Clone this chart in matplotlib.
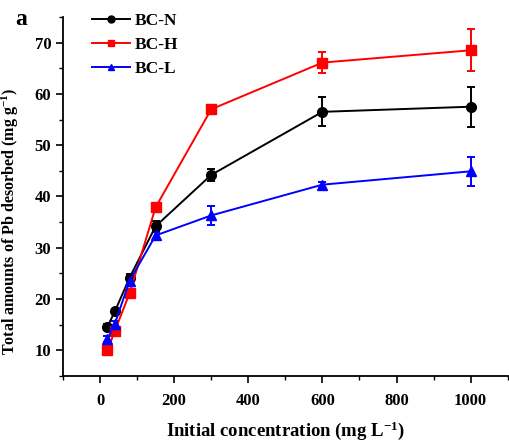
import matplotlib
matplotlib.use("Agg")
import matplotlib.pyplot as plt
from matplotlib.lines import Line2D
from matplotlib.ticker import MultipleLocator

plt.rcParams['font.family'] = ['Liberation Serif', 'DejaVu Serif']
plt.rcParams['font.weight'] = 'bold'
plt.rcParams['mathtext.fontset'] = 'custom'
plt.rcParams['mathtext.rm'] = 'Liberation Serif:bold'
plt.rcParams['mathtext.bf'] = 'Liberation Serif:bold'
plt.rcParams['mathtext.default'] = 'bf'

conc = [20, 40, 80, 150, 300, 600, 1000]

bcn = [14.6, 17.6, 24.2, 34.2, 44.2, 56.5, 57.5]
bcn_err = [0.5, 0.5, 0.6, 1.0, 1.2, 2.8, 3.9]

bch = [10.0, 13.8, 21.2, 37.9, 57.0, 66.1, 68.5]
bch_err = [0.5, 0.5, 0.8, 0.6, 0.6, 2.0, 4.1]

bcl = [12.2, 15.2, 23.6, 32.4, 36.3, 42.3, 44.9]
bcl_err = [0.6, 0.6, 0.6, 0.6, 1.8, 0.6, 2.8]

fig = plt.figure(figsize=(5.1, 4.46), dpi=100)
ax = fig.add_axes([0.1235, 0.157, 0.872, 0.805])

series = [
    ('BC-N', bcn, bcn_err, 'black', 'o'),
    ('BC-H', bch, bch_err, 'red', 's'),
    ('BC-L', bcl, bcl_err, 'blue', '^'),
]
handles = []
for name, vals, errs, col, mk in series:
    ax.errorbar(conc, vals, yerr=errs, color=col, marker=mk, markersize=7,
                linewidth=1.4, elinewidth=1.4, capsize=3, capthick=1.4)
    handles.append(Line2D([], [], color=col, marker=mk, markersize=5,
                          linewidth=1.4, label=name))

ax.set_xlim(-100, 1100)
ax.set_ylim(5, 75)
ax.xaxis.set_minor_locator(MultipleLocator(100))
ax.yaxis.set_minor_locator(MultipleLocator(5))
ax.set_xticks([0, 200, 400, 600, 800, 1000])
ax.set_yticks([10, 20, 30, 40, 50, 60, 70])

ax.spines['top'].set_visible(False)
ax.spines['right'].set_visible(False)
for s in ('left', 'bottom'):
    ax.spines[s].set_linewidth(1.3)
ax.tick_params(which='major', direction='out', length=5, width=1.2,
               labelsize=12)
ax.tick_params(axis='x', which='major', pad=7)
ax.tick_params(which='minor', direction='out', length=3, width=1.0)
for lab in ax.get_xticklabels() + ax.get_yticklabels():
    lab.set_fontweight('bold')

ax.set_xlabel('Initial concentration (mg L$^{-1}$)', fontsize=13.5,
              fontweight='bold', labelpad=8)
ax.set_ylabel('Total amounts of Pb desorbed (mg g$^{-1}$)', fontsize=11.5,
              fontweight='bold')
ax.yaxis.set_label_coords(-0.095, 0.43)

ax.legend(handles=handles, loc='upper left', bbox_to_anchor=(0.03, 1.055),
          frameon=False, fontsize=12.5, handlelength=2.2, labelspacing=0.45,
          handletextpad=0.25)

fig.text(0.03, 0.945, 'a', fontsize=17, fontweight='bold')

fig.savefig('out.png', dpi=100)
